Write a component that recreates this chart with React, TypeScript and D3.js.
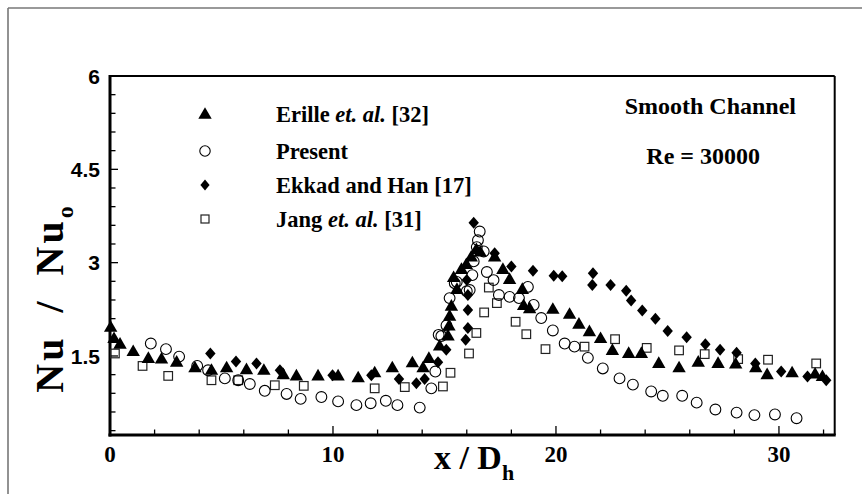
import React from "react";
import * as d3 from "d3";

// Erille et. al. [32] — filled triangles
const erilleX = [0.03, 0.18, 0.45, 1.04, 1.72, 2.31, 2.99, 3.81, 4.55, 5.23, 6.12, 6.9, 7.77, 8.36, 9.33, 10.23, 11.13, 11.87, 12.66, 13.56, 14.04, 14.3, 14.78, 15.16, 15.2, 15.23, 15.31, 15.41, 15.56, 15.76, 15.98, 16.2, 16.43, 16.6, 17.25, 17.62, 17.92, 18.49, 18.55, 18.82, 19.86, 20.61, 21.03, 21.5, 22.0, 22.53, 23.26, 23.83, 24.61, 25.52, 26.38, 27.27, 28.06, 28.96, 29.47, 30.59, 31.62, 31.95];
const erilleY = [1.95, 1.77, 1.68, 1.56, 1.45, 1.44, 1.39, 1.3, 1.26, 1.3, 1.27, 1.26, 1.19, 1.17, 1.17, 1.17, 1.14, 1.22, 1.3, 1.38, 1.3, 1.45, 1.65, 1.81, 1.97, 2.13, 2.29, 2.75, 2.56, 2.88, 2.96, 3.08, 3.2, 3.16, 3.08, 2.88, 2.72, 2.56, 2.3, 2.25, 2.24, 2.16, 2.0, 1.88, 1.77, 1.58, 1.53, 1.53, 1.37, 1.3, 1.39, 1.37, 1.36, 1.3, 1.19, 1.22, 1.2, 1.16];

// Present — open circles
const presentX = [1.83, 2.51, 3.1, 3.91, 4.4, 5.15, 5.75, 6.27, 6.94, 7.92, 8.55, 9.48, 10.23, 11.05, 11.69, 12.37, 12.89, 13.89, 14.41, 14.59, 14.74, 14.86, 15.09, 15.23, 15.46, 15.55, 16.0, 16.13, 16.25, 16.31, 16.45, 16.5, 16.58, 16.76, 16.9, 17.2, 17.44, 17.92, 18.34, 18.74, 19.0, 19.34, 19.86, 20.39, 20.83, 21.43, 22.1, 22.85, 23.45, 24.27, 24.79, 25.66, 26.31, 27.15, 28.1, 28.9, 29.82, 30.79];
const presentY = [1.7, 1.61, 1.49, 1.34, 1.27, 1.14, 1.11, 1.05, 0.94, 0.89, 0.81, 0.84, 0.77, 0.71, 0.74, 0.78, 0.71, 0.67, 0.98, 1.25, 1.84, 1.82, 1.99, 2.43, 2.67, 2.69, 2.54, 2.56, 2.8, 3.02, 3.25, 3.36, 3.5, 3.18, 2.85, 2.72, 2.48, 2.45, 2.43, 2.61, 2.32, 2.11, 1.91, 1.7, 1.65, 1.47, 1.3, 1.14, 1.04, 0.93, 0.86, 0.86, 0.75, 0.64, 0.59, 0.55, 0.56, 0.5];

// Ekkad and Han [17] — filled diamonds
const ekkadX = [4.5, 5.65, 6.57, 7.62, 9.98, 11.72, 12.96, 13.74, 14.11, 14.71, 15.08, 15.95, 16.05, 16.05, 16.05, 16.0, 16.31, 17.25, 18.0, 18.97, 19.9, 20.28, 21.66, 21.63, 22.45, 23.15, 23.37, 23.87, 24.46, 25.01, 25.86, 26.7, 27.36, 28.1, 28.94, 30.1, 31.28, 32.12];
const ekkadY = [1.54, 1.41, 1.38, 1.27, 1.19, 1.19, 1.13, 1.06, 1.13, 1.4, 1.6, 1.76, 1.95, 2.24, 2.48, 2.72, 3.64, 3.15, 2.94, 2.87, 2.79, 2.78, 2.83, 2.64, 2.64, 2.55, 2.39, 2.23, 2.1, 1.9, 1.8, 1.69, 1.6, 1.55, 1.38, 1.25, 1.17, 1.11];

// Jang et. al. [31] — open squares
const jangX = [0.22, 1.46, 2.61, 4.55, 5.75, 7.39, 8.69, 11.87, 13.22, 14.93, 15.27, 16.1, 16.43, 16.78, 16.99, 17.35, 18.19, 18.67, 19.53, 21.28, 22.65, 24.07, 25.52, 26.67, 28.17, 29.51, 31.67];
const jangY = [1.54, 1.34, 1.18, 1.11, 1.11, 1.03, 1.02, 0.98, 1.0, 1.01, 1.23, 1.54, 1.87, 2.2, 2.6, 2.35, 2.05, 1.85, 1.61, 1.65, 1.77, 1.63, 1.59, 1.53, 1.45, 1.44, 1.38];

const yMajor = [1.5, 3, 4.5, 6];
const yMajorLabels = ["1.5", "3", "4.5", "6"];
const xMajor = [0, 10, 20, 30];
const xMajorLabels = ["0", "10", "20", "30"];

const legendLabels = ["Erille", "Present", "Ekkad and Han [17]", "Jang"];

const W = 862;
const H = 494;
const M = { left: 110, right: 834.7, top: 76, bottom: 435 };

const x = d3.scaleLinear().domain([0, 32.5]).range([M.left, M.right]);
const y = d3.scaleLinear().domain([0.23, 6]).range([M.bottom, M.top]);

const serif = "'Liberation Serif', 'Times New Roman', serif";
const sans = "'Liberation Sans', Arial, sans-serif";

const triPath = d3.symbol(d3.symbolTriangle, 78)()!;
const diaPath = "M0,-6L5.2,0L0,6L-5.2,0Z";

function Triangle({ cx, cy }: { cx: number; cy: number }) {
  return <path d={triPath} transform={`translate(${cx},${cy})`} fill="#000" />;
}
function Circle({ cx, cy }: { cx: number; cy: number }) {
  return <circle cx={cx} cy={cy} r={5.4} fill="none" stroke="#000" strokeWidth={1.1} />;
}
function Diamond({ cx, cy }: { cx: number; cy: number }) {
  return <path d={diaPath} transform={`translate(${cx},${cy})`} fill="#000" />;
}
function Square({ cx, cy }: { cx: number; cy: number }) {
  return <rect x={cx - 4.3} y={cy - 4.3} width={8.6} height={8.6} fill="none" stroke="#222" strokeWidth={1.2} />;
}

export default function App() {
  const yMinor = d3.range(0.3, 6.01, 0.3);
  const xMinor = d3.range(0, 32.1, 2);
  const legendRows = [114, 151, 185, 219];

  return (
    <svg width={W} height={H} style={{ position: "absolute", left: 0, top: 0, background: "#fff" }}>
      <rect width={W} height={H} fill="#fff" />
      {/* outer frame */}
      <line x1={8} y1={8} x2={W} y2={8} stroke="#777" strokeWidth={1.6} />
      <line x1={8} y1={8} x2={8} y2={H} stroke="#777" strokeWidth={1.6} />

      {/* y ticks */}
      {yMinor.map((v, i) => {
        const major = yMajor.some((m) => Math.abs(m - v) < 1e-6);
        return (
          <line key={"yt" + i} x1={M.left} x2={M.left + (major ? 8 : 5.5)} y1={y(v)} y2={y(v)} stroke="#000" strokeWidth={1.3} />
        );
      })}
      {/* x ticks */}
      {xMinor.map((v, i) => {
        const major = v % 10 === 0;
        return (
          <line key={"xt" + i} x1={x(v)} x2={x(v)} y1={M.bottom} y2={M.bottom - (major ? 9 : 5.5)} stroke="#000" strokeWidth={1.3} />
        );
      })}

      {/* plot box */}
      <line x1={M.left} y1={M.top} x2={M.right} y2={M.top} stroke="#000" strokeWidth={2} />
      <line x1={M.right} y1={M.top} x2={M.right} y2={M.bottom} stroke="#000" strokeWidth={2} />
      <line x1={M.left} y1={M.top - 1} x2={M.left} y2={M.bottom + 1.5} stroke="#000" strokeWidth={3} />
      <line x1={M.left - 1.5} y1={M.bottom} x2={M.right + 1} y2={M.bottom} stroke="#000" strokeWidth={3} />

      {/* y tick labels */}
      {yMajor.map((v, i) => (
        <text key={"yl" + i} x={M.left - 10} y={y(v)} dy="0.36em" textAnchor="end" fontFamily={sans} fontWeight="bold" fontSize={21} fill="#000">
          {yMajorLabels[i]}
        </text>
      ))}
      {/* x tick labels */}
      {xMajor.map((v, i) => (
        <text key={"xl" + i} x={x(v)} y={M.bottom + 27} textAnchor="middle" fontFamily={serif} fontWeight="bold" fontSize={23} fill="#000">
          {xMajorLabels[i]}
        </text>
      ))}

      {/* axis titles */}
      <text x={474} y={469} textAnchor="middle" fontFamily={serif} fontWeight="bold" fontSize={34} fill="#000">
        x / D<tspan fontSize={22} dy={11}>h</tspan>
      </text>
      <text transform="translate(63,298) rotate(-90)" textAnchor="middle" fontFamily={serif} fontWeight="bold" fontSize={40} letterSpacing={3} wordSpacing={10} fill="#000">
        Nu / Nu<tspan fontSize={24} dy={10}>o</tspan>
      </text>

      {/* data */}
      {jangX.map((v, i) => <Square key={"sq" + i} cx={x(v)} cy={y(jangY[i])} />)}
      {presentX.map((v, i) => <Circle key={"ci" + i} cx={x(v)} cy={y(presentY[i])} />)}
      {erilleX.map((v, i) => <Triangle key={"tr" + i} cx={x(v)} cy={y(erilleY[i])} />)}
      {ekkadX.map((v, i) => <Diamond key={"di" + i} cx={x(v)} cy={y(ekkadY[i])} />)}

      {/* legend */}
      <Triangle cx={205} cy={legendRows[0] + 1} />
      <circle cx={205} cy={legendRows[1]} r={5.2} fill="none" stroke="#000" strokeWidth={1.1} />
      <path d="M0,-5.5L4.6,0L0,5.5L-4.6,0Z" transform={`translate(205,${legendRows[2]})`} fill="#000" />
      <rect x={201} y={legendRows[3] - 4} width={8} height={8} fill="none" stroke="#222" strokeWidth={1.2} />

      <g fontFamily={serif} fontWeight="bold" fontSize={22.5} fill="#000">
        <text x={276} y={legendRows[0]} dy="0.35em">
          {legendLabels[0]} <tspan fontStyle="italic">et. al.</tspan> [32]
        </text>
        <text x={276} y={legendRows[1]} dy="0.35em">{legendLabels[1]}</text>
        <text x={276} y={legendRows[2]} dy="0.35em">{legendLabels[2]}</text>
        <text x={276} y={legendRows[3]} dy="0.35em">
          {legendLabels[3]} <tspan fontStyle="italic">et. al.</tspan> [31]
        </text>
      </g>

      {/* annotations */}
      <text x={796} y={114} textAnchor="end" fontFamily={serif} fontWeight="bold" fontSize={24} fill="#000">
        Smooth Channel
      </text>
      <text x={760} y={164} textAnchor="end" fontFamily={serif} fontWeight="bold" fontSize={24} fill="#000">
        Re = 30000
      </text>
    </svg>
  );
}
